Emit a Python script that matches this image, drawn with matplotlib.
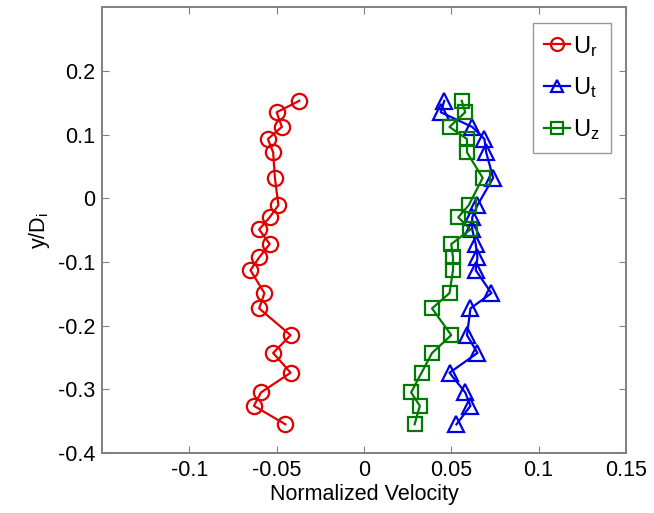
import matplotlib

matplotlib.use("Agg")
import matplotlib.pyplot as plt

plt.rcParams["font.family"] = ["Liberation Sans", "DejaVu Sans"]
plt.rcParams["mathtext.fontset"] = "custom"
plt.rcParams["mathtext.rm"] = "Liberation Sans"
plt.rcParams["mathtext.it"] = "Liberation Sans"

# vertical positions (y/Di), shared by all three profiles
y_pos = [0.153, 0.135, 0.112, 0.093, 0.072, 0.032, -0.011, -0.030, -0.049, -0.072,
         -0.093, -0.113, -0.149, -0.173, -0.215, -0.243, -0.274, -0.305, -0.326, -0.355]

u_r = [-0.037, -0.050, -0.047, -0.055, -0.052, -0.051, -0.049, -0.054, -0.060, -0.054,
       -0.060, -0.065, -0.057, -0.060, -0.042, -0.052, -0.042, -0.059, -0.063, -0.045]

u_t = [0.046, 0.044, 0.062, 0.069, 0.070, 0.074, 0.065, 0.062, 0.062, 0.064,
       0.065, 0.064, 0.073, 0.061, 0.059, 0.065, 0.049, 0.058, 0.061, 0.053]

u_z = [0.056, 0.058, 0.049, 0.059, 0.059, 0.068, 0.060, 0.054, 0.061, 0.050,
       0.051, 0.051, 0.049, 0.039, 0.050, 0.039, 0.033, 0.027, 0.032, 0.029]

x_ticks = [-0.1, -0.05, 0, 0.05, 0.1, 0.15]
x_ticklabels = ["-0.1", "-0.05", "0", "0.05", "0.1", "0.15"]
y_ticks = [-0.4, -0.3, -0.2, -0.1, 0, 0.1, 0.2]
y_ticklabels = ["-0.4", "-0.3", "-0.2", "-0.1", "0", "0.1", "0.2"]

fig = plt.figure(figsize=(6.54, 5.13), dpi=100)
ax = fig.add_axes([0.156, 0.117, 0.801, 0.869])

style = dict(linewidth=1.6, markersize=11, markeredgewidth=1.6, markerfacecolor="none")
ax.plot(u_r, y_pos, "-o", color="#e00000", label=r"U$_\mathregular{r}$", **style)
ax.plot(u_t, y_pos, "-^", color="#0000e6", label=r"U$_\mathregular{t}$", **style)
ax.plot(u_z, y_pos, "-s", color="#007a00", label=r"U$_\mathregular{z}$",
        linewidth=1.6, markersize=10, markeredgewidth=1.6, markerfacecolor="none")

ax.set_xlim(-0.15, 0.15)
ax.set_ylim(-0.4, 0.3)
ax.set_xticks(x_ticks)
ax.set_xticklabels(x_ticklabels)
ax.set_yticks(y_ticks)
ax.set_yticklabels(y_ticklabels)
ax.tick_params(direction="in", length=5, width=0.8, color="#808080", labelsize=15.5,
               top=True, right=True, pad=5)
for sp in ax.spines.values():
    sp.set_color("#808080")
    sp.set_linewidth(1.4)

ax.set_xlabel("Normalized Velocity", fontsize=15.5, labelpad=2)
ax.set_ylabel(r"y/D$_\mathregular{i}$", fontsize=15.5, labelpad=4)

leg = ax.legend(loc="upper right", bbox_to_anchor=(0.98, 0.975), fontsize=17,
                frameon=True, fancybox=False, handlelength=1.1, handletextpad=0.15,
                borderpad=0.45, borderaxespad=0.2, labelspacing=0.72, markerscale=0.85)
leg.get_frame().set_edgecolor("#808080")
leg.get_frame().set_linewidth(1.0)

fig.savefig("out.png", dpi=100)
